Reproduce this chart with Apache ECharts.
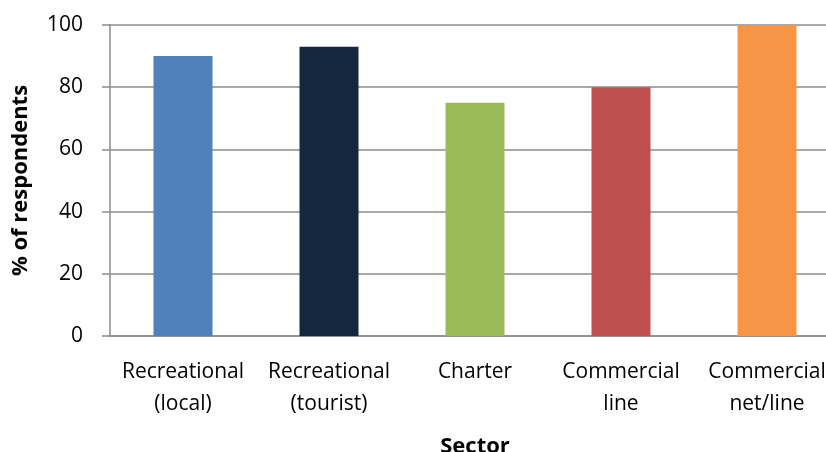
<!DOCTYPE html>
<html>
<head>
<meta charset="utf-8">
<script src="https://cdn.jsdelivr.net/npm/echarts@6/dist/echarts.min.js"></script>
<style>
  html, body { margin: 0; padding: 0; background: #fff; }
  #chart { width: 826px; height: 452px; }
</style>
</head>
<body>
<div id="chart"></div>
<script>
// Share of respondents by fishing sector
const sectors = ['Recreational\n(local)', 'Recreational\n(tourist)', 'Charter', 'Commercial\nline', 'Commercial\nnet/line'];
const percentValues = [90, 93, 75, 80, 100];
const barColors = ['#4F81BD', '#14273F', '#9BBB59', '#C0504D', '#F79646'];
const yTicks = [0, 20, 40, 60, 80, 100];

const font = "'Open Sans', 'Liberation Sans', sans-serif";
const chart = echarts.init(document.getElementById('chart'));
chart.setOption({
  animation: false,
  grid: { left: 110, right: -14, top: 25, bottom: 116, containLabel: false, outerBoundsMode: 'none' },
  xAxis: {
    type: 'category',
    data: sectors,
    name: 'Sector',
    nameLocation: 'middle',
    nameGap: 100,
    nameTextStyle: { fontFamily: font, fontSize: 22, fontWeight: 'bold', color: '#000' },
    axisLine: { lineStyle: { color: '#8c8c8c', width: 1.5 } },
    axisTick: { show: false },
    axisLabel: { fontFamily: font, fontSize: 21, color: '#000', lineHeight: 32, margin: 20, interval: 0 }
  },
  yAxis: {
    type: 'value',
    min: yTicks[0],
    max: yTicks[yTicks.length - 1],
    interval: 20,
    name: '% of respondents',
    nameLocation: 'middle',
    nameGap: 78,
    nameTextStyle: { fontFamily: font, fontSize: 22, fontWeight: 'bold', color: '#000' },
    axisLine: { show: true, lineStyle: { color: '#8c8c8c', width: 1.5 } },
    axisTick: { show: true, length: 8, lineStyle: { color: '#8c8c8c', width: 1.5 } },
    axisLabel: { fontFamily: font, fontSize: 21, color: '#000', margin: 27 },
    splitLine: { lineStyle: { color: '#8c8c8c', width: 1.5 } }
  },
  series: [{
    type: 'bar',
    data: percentValues.map((v, i) => ({ value: v, itemStyle: { color: barColors[i] } })),
    barWidth: 59
  }]
});
</script>
</body>
</html>
